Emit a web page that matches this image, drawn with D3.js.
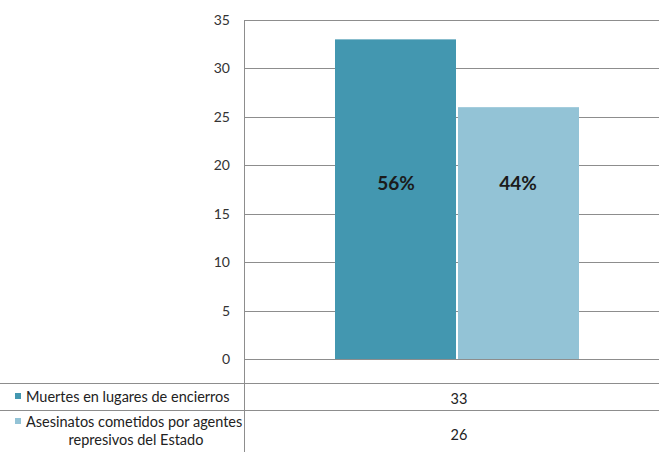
<!DOCTYPE html>
<html>
<head>
<meta charset="utf-8">
<script src="https://cdn.jsdelivr.net/npm/d3@7"></script>
<style>
  html, body { margin: 0; padding: 0; background: #fff; }
  svg { display: block; font-family: Lato, "Open Sans", sans-serif; }
</style>
</head>
<body>
<svg id="chart" width="659" height="452"></svg>
<script>
// Series names (as shown in the data table) and their totals
const seriesNames = [
  "Muertes en lugares de encierros",
  "Asesinatos cometidos por agentes represivos del Estado"
];
const seriesLabelLines = [
  ["Muertes en lugares de encierros"],
  ["Asesinatos cometidos por agentes", "represivos del Estado"]
];
const seriesValues = [33, 26];
const seriesColors = ["#4397b0", "#93c3d6"];
const yTicks = [0, 5, 10, 15, 20, 25, 30, 35];
const category = [""];

const svg = d3.select("#chart");
const W = 659;

// Plot area
const plot = { left: 244, right: 670, top: 20, bottom: 359 };

const y = d3.scaleLinear().domain([0, 35]).range([plot.bottom, plot.top]);
const x0 = d3.scaleBand().domain(category).range([plot.left, plot.right]).paddingInner(0).paddingOuter(0.373);
const x1 = d3.scaleBand().domain(d3.range(seriesValues.length)).range([0, x0.bandwidth()]).padding(0);

const gridColor = "#8d8d8d";

// Horizontal gridlines
svg.append("g")
  .selectAll("line")
  .data(yTicks)
  .join("line")
  .attr("x1", plot.left)
  .attr("x2", W)
  .attr("y1", d => Math.round(y(d)) + 0.5)
  .attr("y2", d => Math.round(y(d)) + 0.5)
  .attr("stroke", gridColor)
  .attr("stroke-width", 1);

// Y axis tick labels
const yAxis = d3.axisLeft(y).tickValues(yTicks).tickSize(0).tickPadding(14);
const gy = svg.append("g")
  .attr("transform", `translate(${plot.left},0)`)
  .call(yAxis);
gy.select(".domain").remove();
gy.selectAll("text")
  .attr("font-size", 14)
  .attr("fill", "#333")
  .attr("font-family", "Lato, 'Open Sans', sans-serif");

// Bars
const total = d3.sum(seriesValues);
const bars = svg.append("g");
seriesValues.forEach((v, i) => {
  const bx = x0(category[0]) + x1(i);
  bars.append("rect")
    .attr("x", bx + (i === 0 ? 0 : 1))
    .attr("y", y(v))
    .attr("width", x1.bandwidth() - 1)
    .attr("height", y(0) - y(v))
    .attr("fill", seriesColors[i]);
  bars.append("text")
    .attr("x", bx + x1.bandwidth() / 2)
    .attr("y", 190)
    .attr("text-anchor", "middle")
    .attr("font-size", 19)
    .attr("font-weight", "bold")
    .attr("fill", "#1b1b1b")
    .text(Math.round(v / total * 100) + "%");
});

// Vertical axis line running through the data table
svg.append("line")
  .attr("x1", plot.left + 0.5).attr("x2", plot.left + 0.5)
  .attr("y1", plot.top).attr("y2", 452)
  .attr("stroke", gridColor);

// Data table
const rowTops = [383, 410];
const rowBottoms = [410, 452];
const valueBaselines = [404, 440];
svg.append("g")
  .selectAll("line")
  .data(rowTops)
  .join("line")
  .attr("x1", 0).attr("x2", W)
  .attr("y1", d => d + 0.5).attr("y2", d => d + 0.5)
  .attr("stroke", gridColor);

const table = svg.append("g").attr("font-size", 14.5).attr("fill", "#222");
seriesValues.forEach((v, i) => {
  const lines = seriesLabelLines[i];
  const top = rowTops[i];
  const firstBase = lines.length === 1 ? top + 19 : top + 17;
  table.append("rect")
    .attr("x", 15).attr("y", firstBase - 9)
    .attr("width", 6).attr("height", 6)
    .attr("fill", seriesColors[i]);
  lines.forEach((ln, j) => {
    table.append("text")
      .attr("x", j === 0 ? 26 : 136)
      .attr("y", firstBase + j * 18)
      .attr("text-anchor", j === 0 ? "start" : "middle")
      .text(ln);
  });
  table.append("text")
    .attr("x", x0(category[0]) + x0.bandwidth() / 2 + 2)
    .attr("y", valueBaselines[i])
    .attr("text-anchor", "middle")
    .text(v);
});
</script>
</body>
</html>
